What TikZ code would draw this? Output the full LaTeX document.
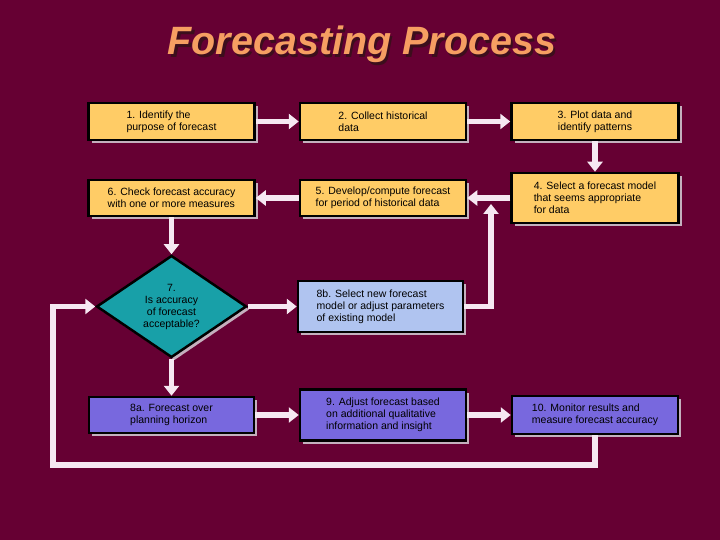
\documentclass[tikz,border=0pt]{standalone}
\usepackage{fontspec}
\setmainfont{Liberation Sans}
\usetikzlibrary{shapes.geometric,arrows.meta,shadows}
\definecolor{bgc}{RGB}{102,0,51}
\definecolor{titlec}{RGB}{246,158,98}
\definecolor{titlesh}{RGB}{60,14,28}
\definecolor{yelc}{RGB}{255,204,102}
\definecolor{ltbluec}{RGB}{176,196,240}
\definecolor{purpc}{RGB}{120,104,222}
\definecolor{tealc}{RGB}{24,160,168}
\definecolor{shadc}{RGB}{196,176,190}
\definecolor{arrc}{RGB}{246,232,242}
\tikzset{
  box/.style={draw=black, line width=2.5pt, align=left, inner sep=2pt,
    font=\fontsize{10.5}{12}\selectfont,
    drop shadow={shadow xshift=3pt, shadow yshift=-3pt, fill=shadc, opacity=1}},
  dia/.style={diamond, draw=black, line width=2.5pt, align=center, inner sep=0pt,
    font=\fontsize{10.5}{12}\selectfont, fill=tealc,
    drop shadow={shadow xshift=3pt, shadow yshift=-3pt, fill=shadc, opacity=1}},
  conn/.style={draw=arrc, line width=5.5pt, line join=miter},
  arr/.style={conn, -{Triangle[width=15pt,length=10pt]}}
}
\begin{document}
\begin{tikzpicture}[x=1pt,y=-1pt]
\fill[bgc] (0,0) rectangle (720,540);
\useasboundingbox (0,0) rectangle (720,540);
% title
\node[text=titlec, font=\fontsize{39.5}{44}\selectfont\bfseries\itshape] (title) at (362,46)
  {\makebox[0pt][l]{\hspace{2.5pt}\raisebox{-2.5pt}{\color{titlesh}Forecasting Process}}Forecasting Process};
% boxes
\node[box, fill=yelc, minimum width=166pt, minimum height=37pt] (b1) at (171.5,121.5) {1. Identify the\\purpose of forecast};
\node[box, fill=yelc, minimum width=166pt, minimum height=37pt] (b2) at (383,121.5) {2. Collect historical\\data};
\node[box, fill=yelc, minimum width=167pt, minimum height=37pt, align=center] (b3) at (595,121.5) {3. Plot data and\\identify patterns};
\node[box, fill=yelc, minimum width=167pt, minimum height=50pt] (b4) at (595,198) {4. Select a forecast model\\that seems appropriate\\for data};
\node[box, fill=yelc, minimum width=166pt, minimum height=36pt] (b5) at (383,198) {5. Develop/compute forecast\\for period of historical data};
\node[box, fill=yelc, minimum width=166pt, minimum height=36pt] (b6) at (171.5,198) {6. Check forecast accuracy\\with one or more measures};
\node[dia, minimum width=150pt, minimum height=97pt] (d7) at (171.5,306.5) {7.\\Is accuracy\\of forecast\\acceptable?};
\node[box, fill=ltbluec, minimum width=165pt, minimum height=51pt] (b8b) at (380.5,306.5) {8b. Select new forecast\\model or adjust parameters\\of existing model};
\node[box, fill=purpc, minimum width=165pt, minimum height=36pt] (b8a) at (171.5,415) {8a. Forecast over\\planning horizon};
\node[box, fill=purpc, minimum width=166pt, minimum height=51pt] (b9) at (383,415) {9. Adjust forecast based\\on additional qualitative\\information and insight};
\node[box, fill=purpc, minimum width=166pt, minimum height=38pt] (b10) at (595,415) {10. Monitor results and\\measure forecast accuracy};
% connectors
\coordinate (lc) at (53,465);
\coordinate (jn) at (491,204);
\draw[arr] (b1.east) -- (b2.west);
\draw[arr] (b2.east) -- (b3.west);
\draw[arr] (b3.south) -- (b4.north);
\draw[arr] (b4.west) -- (b5.east);
\draw[arr] (b5.west) -- (b6.east);
\draw[arr] (b6.south) -- (d7.north);
\draw[arr] (d7.east) -- (b8b.west);
\draw[arr] (d7.south) -- (b8a.north);
\draw[arr] (b8a.east) -- (b9.west);
\draw[arr] (b9.east) -- (b10.west);
\draw[arr] (b8b.east) -| (jn);
\draw[arr] (b10.south) |- (lc) |- (d7.west);
\end{tikzpicture}
\end{document}
